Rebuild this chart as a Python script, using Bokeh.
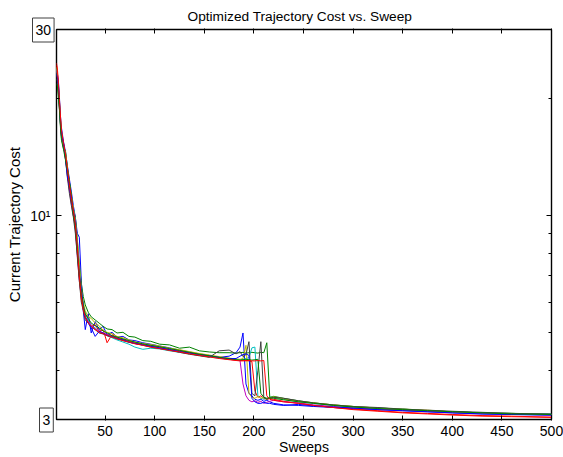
from bokeh.plotting import figure
from bokeh.models import Range1d, FixedTicker, LinearAxis, LogAxis, Title
from bokeh.embed import file_html
from bokeh.resources import INLINE

# ---------------- data ----------------
sweeps = [1, 2, 3, 4, 5, 6, 8, 10, 12, 14, 16, 18, 20, 22, 24, 26, 28, 30,
          33, 36, 40, 44, 48, 52, 57, 62, 68, 74, 80, 88, 96, 105, 115, 125, 135, 145, 155, 165, 175, 182,
          186, 189, 192, 195, 198, 201, 204, 207, 210, 213, 216,
          220, 230, 245, 260, 280, 300, 325, 350, 375, 400, 430, 460, 500]

cost_blue_a = [23.4, 23.0, 22.0, 20.0, 18.0, 16.8, 15.5, 14.6, 13.4, 12.4, 11.5, 10.6, 9.9, 9.0, 8.8, 6.8, 5.7, 5.1,
               5.6, 5.0, 5.35, 5.1, 5.2, 4.95, 5.02, 4.88, 4.9, 4.8, 4.78, 4.72, 4.68, 4.63, 4.58, 4.52, 4.47, 4.42, 4.38, 4.33, 4.36, 4.45,
               4.6, 5.0, 3.7, 3.5, 3.45, 3.38, 3.36, 3.38, 3.34, 3.36, 3.33,
               3.3, 3.27, 3.26, 3.24, 3.22, 3.2, 3.18, 3.16, 3.14, 3.12, 3.1, 3.09, 3.08]
cost_green_a = [22.4, 22.0, 20.8, 19.0, 17.0, 15.8, 14.9, 14.7, 13.3, 12.2, 11.0, 10.4, 9.9, 8.7, 7.5, 6.7, 6.2, 5.9,
                5.65, 5.5, 5.4, 5.3, 5.2, 5.12, 5.1, 5.0, 5.02, 4.9, 4.88, 4.78, 4.76, 4.68, 4.66, 4.57, 4.6, 4.5, 4.47, 4.45, 4.45, 4.44,
                4.45, 4.46, 4.44, 4.45, 4.46, 4.45, 4.44, 4.46, 4.45, 4.72, 3.42,
                3.44, 3.4, 3.35, 3.31, 3.27, 3.24, 3.21, 3.19, 3.16, 3.14, 3.12, 3.11, 3.09]
cost_red_a = [24.3, 23.2, 21.0, 19.2, 17.6, 16.0, 15.1, 14.3, 12.9, 11.7, 10.9, 10.2, 9.3, 8.1, 6.9, 6.1, 5.8, 5.45,
              5.35, 5.2, 5.25, 5.05, 5.1, 4.72, 4.95, 4.86, 4.82, 4.76, 4.73, 4.68, 4.64, 4.6, 4.55, 4.5, 4.45, 4.41, 4.36, 4.32, 4.28, 4.26,
              4.25, 4.25, 4.24, 4.24, 4.22, 3.55, 3.42, 3.45, 3.4, 3.38, 3.4,
              3.38, 3.34, 3.3, 3.26, 3.22, 3.19, 3.16, 3.13, 3.11, 3.09, 3.07, 3.06, 3.04]
cost_cyan = [23.8, 22.6, 21.2, 19.3, 17.4, 16.4, 15.2, 14.4, 13.0, 12.1, 11.2, 10.5, 9.6, 8.5, 7.3, 6.4, 5.9, 5.6,
             5.4, 5.2, 5.15, 5.05, 4.98, 4.92, 4.86, 4.8, 4.74, 4.68, 4.6, 4.54, 4.57, 4.55, 4.5, 4.46, 4.42, 4.38, 4.34, 4.31, 4.28, 4.27,
             4.27, 4.28, 4.3, 4.32, 4.58, 4.6, 3.45, 3.4, 3.38, 3.4, 3.42,
             3.42, 3.38, 3.33, 3.3, 3.26, 3.23, 3.21, 3.19, 3.16, 3.14, 3.12, 3.11, 3.1]
cost_magenta = [23.6, 22.4, 20.6, 18.8, 17.1, 16.0, 15.0, 14.1, 12.7, 11.6, 10.7, 10.0, 9.2, 7.8, 6.8, 6.2, 5.75, 5.5,
                5.35, 5.25, 5.12, 5.06, 5.0, 4.96, 4.92, 4.86, 4.8, 4.76, 4.7, 4.68, 4.63, 4.59, 4.54, 4.49, 4.45, 4.4, 4.36, 4.32, 4.28, 4.26,
                4.25, 3.7, 3.45, 3.36, 3.33, 3.35, 3.32, 3.34, 3.3, 3.32, 3.34,
                3.36, 3.33, 3.31, 3.27, 3.24, 3.21, 3.19, 3.17, 3.15, 3.13, 3.11, 3.1, 3.08]
cost_yellow = [24.0, 22.8, 21.3, 19.5, 17.8, 16.3, 15.0, 14.5, 13.1, 12.0, 11.2, 10.4, 9.7, 8.6, 7.4, 6.5, 6.0, 5.7,
               5.5, 5.45, 5.3, 5.22, 5.08, 5.02, 4.98, 4.9, 4.86, 4.8, 4.74, 4.7, 4.67, 4.63, 4.57, 4.53, 4.48, 4.43, 4.39, 4.35, 4.31, 4.29,
               4.28, 4.3, 4.65, 3.5, 3.42, 3.4, 3.44, 3.4, 3.42, 3.39, 3.41,
               3.43, 3.39, 3.34, 3.31, 3.27, 3.24, 3.21, 3.19, 3.17, 3.14, 3.12, 3.11, 3.09]
cost_black = [23.2, 21.8, 20.4, 18.7, 17.2, 16.1, 15.4, 14.0, 12.5, 11.4, 10.6, 9.9, 9.0, 7.9, 6.8, 6.0, 5.7, 5.4,
              5.3, 5.18, 5.1, 5.0, 4.97, 4.92, 4.88, 4.84, 4.78, 4.73, 4.7, 4.65, 4.6, 4.56, 4.52, 4.46, 4.41, 4.37, 4.33, 4.5, 4.52, 4.42,
              4.48, 4.35, 4.4, 4.75, 3.5, 3.45, 4.0, 4.75, 3.42, 3.38, 3.4,
              3.42, 3.4, 3.35, 3.31, 3.27, 3.24, 3.22, 3.19, 3.17, 3.15, 3.13, 3.11, 3.1]
cost_blue_b = [23.0, 22.6, 21.5, 19.6, 17.3, 16.2, 15.3, 14.0, 12.6, 11.9, 11.0, 10.3, 9.6, 8.3, 7.1, 6.5, 5.9, 5.5,
               5.3, 5.15, 4.9, 5.05, 5.0, 4.93, 4.9, 4.83, 4.8, 4.74, 4.7, 4.66, 4.62, 4.58, 4.53, 4.48, 4.44, 4.4, 4.37, 4.33, 4.3, 4.3,
               4.36, 4.4, 4.42, 4.38, 3.4, 3.33, 3.3, 3.3, 3.32, 3.3, 3.3,
               3.28, 3.26, 3.28, 3.25, 3.23, 3.21, 3.18, 3.16, 3.14, 3.12, 3.1, 3.09, 3.08]
cost_green_b = [21.8, 21.4, 20.0, 18.6, 16.8, 15.6, 14.8, 13.9, 13.0, 12.2, 11.3, 10.0, 9.4, 8.0, 7.0, 6.3, 5.85, 5.6,
                5.45, 5.3, 5.22, 5.15, 5.06, 5.0, 4.92, 4.88, 4.83, 4.78, 4.74, 4.69, 4.65, 4.61, 4.56, 4.51, 4.46, 4.41, 4.37, 4.33, 4.29, 4.27,
                4.26, 4.27, 4.28, 4.27, 4.26, 4.27, 4.28, 3.5, 3.42, 3.4, 3.41,
                3.4, 3.37, 3.33, 3.3, 3.26, 3.23, 3.2, 3.18, 3.16, 3.14, 3.12, 3.1, 3.09]
cost_red_b = [24.6, 23.6, 21.8, 19.8, 18.0, 16.6, 15.4, 14.4, 13.2, 12.0, 11.1, 10.3, 9.5, 8.3, 7.0, 6.2, 5.75, 5.5,
              5.3, 5.2, 5.1, 5.02, 4.98, 4.93, 4.88, 4.83, 4.78, 4.74, 4.69, 4.65, 4.6, 4.56, 4.51, 4.47, 4.42, 4.38, 4.34, 4.3, 4.27, 4.25,
              4.24, 4.24, 4.25, 4.25, 4.24, 4.24, 4.25, 4.24, 4.25, 3.45, 3.38,
              3.36, 3.33, 3.3, 3.26, 3.22, 3.18, 3.15, 3.12, 3.1, 3.08, 3.06, 3.05, 3.04]

all_runs = [cost_blue_a, cost_green_a, cost_red_a, cost_cyan, cost_magenta,
            cost_yellow, cost_black, cost_blue_b, cost_green_b, cost_red_b]
run_colors = ["#0000ff", "#008000", "#ff0000", "#00bfbf", "#bf00bf",
              "#bfbf00", "#404040", "#0000ff", "#008000", "#ff0000"]

x_ticks = [50, 100, 150, 200, 250, 300, 350, 400, 450, 500]
y_major_ticks = [10]
y_minor_ticks = [4, 5, 6, 7, 8, 9, 20]
y_tick_text = {10: "10\u00b9"}
y_limits = [3, 30]
x_limits = [1, 500]
y_limit_text = ["30", "3"]

title_text = "Optimized Trajectory Cost vs. Sweep"
x_label = "Sweeps"
y_label = "Current Trajectory Cost"

FONT = "Liberation Sans"

# ---------------- figure ----------------
p = figure(width=563, height=457,
           x_range=Range1d(x_limits[0], x_limits[1]),
           y_range=Range1d(y_limits[0], y_limits[1]),
           y_axis_type="log",
           output_backend="svg", toolbar_location=None,
           min_border_left=56, min_border_right=12,
           min_border_top=29, min_border_bottom=38)

p.title.text = title_text
p.title.align = "left"
p.title.offset = 131
p.title.text_font = FONT
p.title.text_font_size = "13.7px"
p.title.text_font_style = "normal"
p.title.text_color = "black"
p.title.standoff = 10

p.background_fill_color = "white"
p.border_fill_color = "white"
p.outline_line_color = "black"
p.outline_line_width = 1.4
p.xgrid.visible = False
p.ygrid.visible = False

for run, col in zip(all_runs, run_colors):
    p.line(sweeps, run, line_color=col, line_width=1)

def style_axis(ax):
    ax.axis_line_color = None          # the frame outline draws the box
    ax.major_tick_line_color = "black"
    ax.minor_tick_line_color = "black"
    ax.major_tick_in = 5
    ax.major_tick_out = 0
    ax.minor_tick_in = 3
    ax.minor_tick_out = 0
    ax.major_label_text_font = FONT
    ax.major_label_text_font_size = "14px"
    ax.major_label_text_color = "black"
    ax.axis_label_text_font = FONT
    ax.axis_label_text_font_size = "14px"
    ax.axis_label_text_font_style = "normal"
    ax.axis_label_text_color = "black"

# bottom x axis
xa = p.xaxis[0]
xa.ticker = FixedTicker(ticks=x_ticks, minor_ticks=[])
style_axis(xa)
xa.axis_label = x_label
xa.major_label_standoff = 5
xa.axis_label_standoff = 0

# left y axis
ya = p.yaxis[0]
ya.ticker = FixedTicker(ticks=y_major_ticks, minor_ticks=y_minor_ticks)
style_axis(ya)
ya.major_label_overrides = y_tick_text
ya.axis_label = y_label
ya.axis_label_text_font_size = "15px"
ya.major_label_standoff = 6
ya.axis_label_standoff = 4

# top and right tick-only axes
top = LinearAxis(ticker=FixedTicker(ticks=x_ticks, minor_ticks=[]),
                 major_label_overrides={t: "" for t in x_ticks})
style_axis(top)
top.major_label_standoff = 0

right = LogAxis(ticker=FixedTicker(ticks=y_major_ticks, minor_ticks=y_minor_ticks),
                major_label_overrides={t: "" for t in y_major_ticks})
style_axis(right)
right.major_label_standoff = 0
p.add_layout(right, "right")

# boxed axis-limit labels ("30" at the top, "3" at the bottom of the y axis)
def limit_box(txt, offset, valign):
    return Title(text=txt, align="left", vertical_align=valign, offset=offset,
                 standoff=-25, text_font=FONT, text_font_size="14px",
                 text_font_style="normal", text_color="black",
                 border_line_color="#404040", border_line_width=1,
                 background_fill_color="white", padding=(3, 7))

box_top = limit_box(y_limit_text[0], -24, "bottom")
box_bottom = limit_box(y_limit_text[1], -17, "middle")

p.above = [box_top, top]
p.below = [box_bottom] + list(p.below)

open("out.html", "w").write(file_html(p, INLINE))
